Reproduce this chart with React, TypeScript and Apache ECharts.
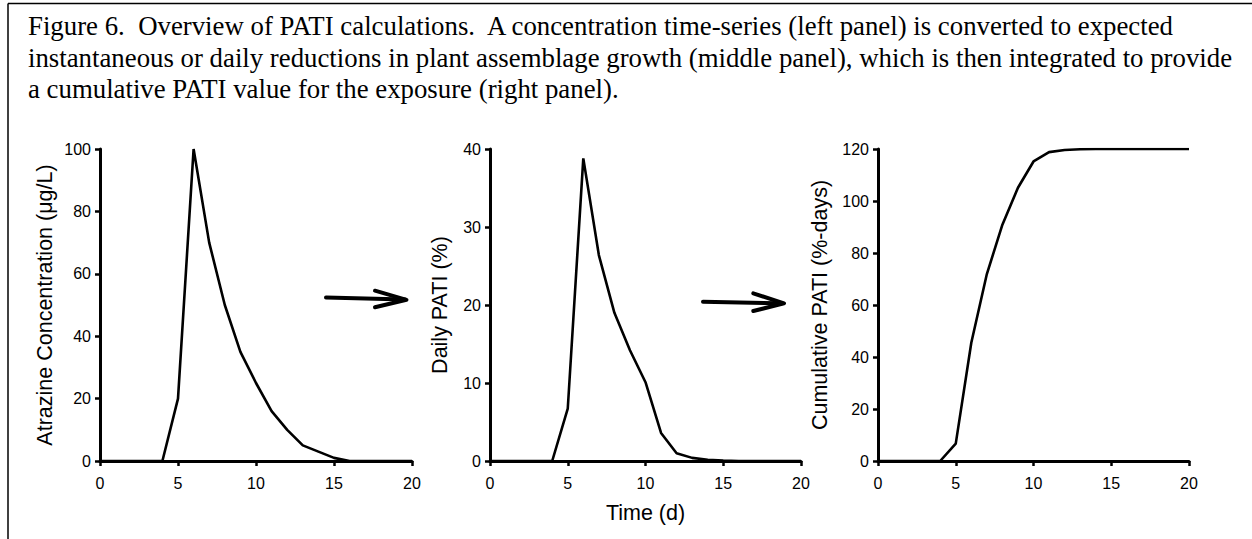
import React, { useEffect, useRef } from "react";
import * as echarts from "echarts";

const days = [0, 1, 2, 3, 4, 5, 6, 7, 8, 9, 10, 11, 12, 13, 14, 15, 16, 17, 18, 19, 20];
const concentration = [0, 0, 0, 0, 0, 20, 100, 70, 50, 35, 25, 16, 10, 5, 3, 1, 0, 0, 0, 0, 0];
const dailyPati = [0, 0, 0, 0, 0, 6.7, 38.8, 26.4, 19.0, 14.2, 10.1, 3.6, 1.0, 0.4, 0.15, 0.05, 0, 0, 0, 0, 0];
const cumulativePati = [0, 0, 0, 0, 0, 6.7, 45.5, 71.9, 90.9, 105.1, 115.2, 118.8, 119.6, 119.9, 120, 120, 120, 120, 120, 120, 120];

const captionLines = [
  "Figure 6.  Overview of PATI calculations.  A concentration time-series (left panel) is converted to expected",
  "instantaneous or daily reductions in plant assemblage growth (middle panel), which is then integrated to provide",
  "a cumulative PATI value for the exposure (right panel).",
];

const yTitles = ["Atrazine Concentration (μg/L)", "Daily PATI (%)", "Cumulative PATI (%-days)"];
const yMax = [100, 40, 120];
const yInterval = [20, 10, 20];
const xTitle = "Time (d)";
const xTicks = { min: 0, max: 20, interval: 5 };

const SANS = "Arial, 'Liberation Sans', sans-serif";
const SERIF = "'Times New Roman', 'Liberation Serif', serif";

export default function App() {
  const ref = useRef<HTMLDivElement>(null);
  useEffect(() => {
    if (!ref.current) return;
    const chart = echarts.init(ref.current, undefined, { renderer: "svg" });
    const grids = [
      { left: 100, top: 149, width: 312, height: 312 },
      { left: 490, top: 149, width: 311, height: 312 },
      { left: 878, top: 149, width: 311, height: 312 },
    ];
    const nameGaps = [44, 39, 47];
    const seriesData = [concentration, dailyPati, cumulativePati];
    const axisLine = { show: true, onZero: false, lineStyle: { color: "#000", width: 3 } };
    const axisTick = { show: true, length: 5, lineStyle: { color: "#000", width: 2.5 } };
    const option: any = {
      animation: false,
      backgroundColor: "#fff",
      grid: grids.map((g) => ({ ...g, containLabel: false })),
      xAxis: grids.map((_, i) => ({
        type: "value",
        gridIndex: i,
        min: xTicks.min,
        max: xTicks.max,
        interval: xTicks.interval,
        axisLine,
        axisTick,
        splitLine: { show: false },
        axisLabel: { color: "#000", fontSize: 16, fontFamily: SANS, margin: 14 },
        name: i === 1 ? xTitle : "",
        nameLocation: "middle",
        nameGap: 41,
        nameTextStyle: { color: "#000", fontSize: 21.5, fontFamily: SANS },
      })),
      yAxis: grids.map((_, i) => ({
        type: "value",
        gridIndex: i,
        min: 0,
        max: yMax[i],
        interval: yInterval[i],
        axisLine,
        axisTick,
        splitLine: { show: false },
        axisLabel: { color: "#000", fontSize: 16, fontFamily: SANS, margin: 9 },
        name: yTitles[i],
        nameLocation: "middle",
        nameGap: nameGaps[i],
        nameRotate: 90,
        nameTextStyle: { color: "#000", fontSize: 21.5, fontFamily: SANS },
      })),
      series: seriesData.map((vals, i) => ({
        type: "line",
        xAxisIndex: i,
        yAxisIndex: i,
        data: days.map((d, k) => [d, vals[k]]),
        symbol: "none",
        lineStyle: { color: "#000", width: 2.6 },
        z: 1,
      })),
      graphic: [
        { type: "line", shape: { x1: 8, y1: 3.5, x2: 1260, y2: 3.5 }, style: { stroke: "#000", lineWidth: 1.5 } },
        { type: "line", shape: { x1: 8, y1: 3.5, x2: 8, y2: 545 }, style: { stroke: "#000", lineWidth: 1.5 } },
        ...captionLines.map((t, k) => ({
          type: "text",
          x: 28,
          y: 26 + k * 31.5,
          style: { text: t, fill: "#000", font: `26.8px ${SERIF}`, textVerticalAlign: "middle" },
        })),
        { type: "polyline", shape: { points: [[326, 297.5], [405, 299.5]] }, style: { stroke: "#000", lineWidth: 4, lineCap: "round", fill: null } },
        { type: "polyline", shape: { points: [[375, 290.7], [406.5, 299.8], [375, 307.3]] }, style: { stroke: "#000", lineWidth: 4, lineCap: "round", lineJoin: "round", fill: null } },
        { type: "polyline", shape: { points: [[703, 301.7], [782, 303.3]] }, style: { stroke: "#000", lineWidth: 4, lineCap: "round", fill: null } },
        { type: "polyline", shape: { points: [[753.3, 293.3], [784, 303.3], [753.3, 311]] }, style: { stroke: "#000", lineWidth: 4, lineCap: "round", lineJoin: "round", fill: null } },
      ],
    };
    chart.setOption(option);
    return () => chart.dispose();
  }, []);
  return (
    <div
      ref={ref}
      style={{ position: "absolute", left: 0, top: 0, width: 1252, height: 539, background: "#fff" }}
    />
  );
}
